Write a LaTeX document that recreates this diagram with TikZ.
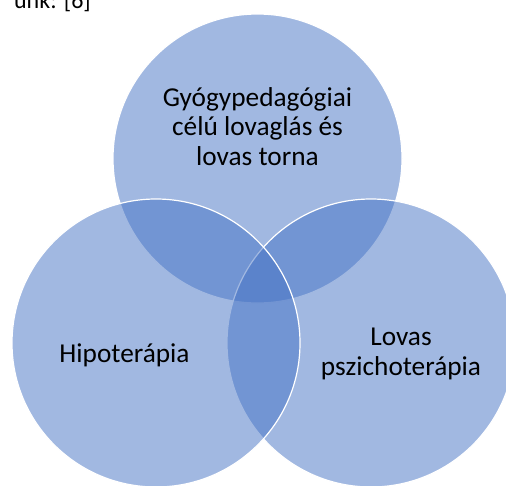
\documentclass[tikz,border=0pt]{standalone}
\usepackage{fontspec}
\setmainfont{Carlito}
\definecolor{accent}{RGB}{68,114,196}
\begin{document}
\begin{tikzpicture}[x=1pt,y=-1pt,
  venn/.style={fill=accent, fill opacity=0.5, draw=white, line width=1.2pt},
  lbl/.style={font=\fontsize{27.3}{29.5}\selectfont, align=center, inner sep=0pt, text=black}]
\useasboundingbox (0,0) rectangle (506,485);
\clip (0,0) rectangle (506,485);
\node[anchor=base east, inner sep=0pt, font=\fontsize{24}{28}\selectfont] (cap) at (91,8) {unk: [6]};
\draw[venn] (257.5,158.5) circle[radius=144.5];
\draw[venn] (371,343) circle[radius=144];
\draw[venn] (156,343) circle[radius=144];
\node[lbl, anchor=base] (ped) at (257.5,165) {Gyógypedagógiai\\célú lovaglás és\\lovas torna};
\node[lbl, anchor=base] (hipo) at (124.5,362) {Hipoterápia};
\node[lbl, anchor=base] (psy) at (401,375) {Lovas\\pszichoterápia};
\end{tikzpicture}
\end{document}
